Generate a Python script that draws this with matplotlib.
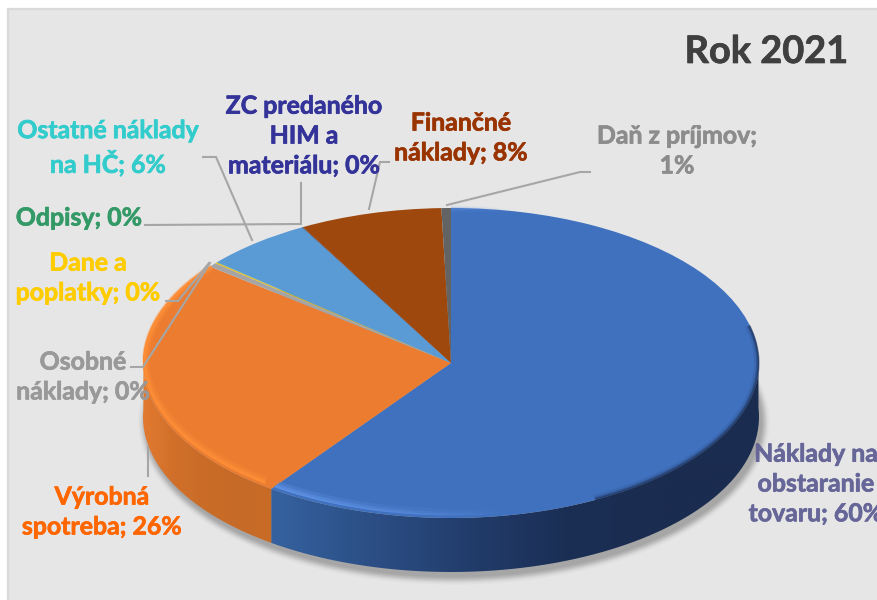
import numpy as np
import matplotlib
matplotlib.use("Agg")
import matplotlib.pyplot as plt
import matplotlib.patheffects as pe
from matplotlib.path import Path
from matplotlib.patches import PathPatch, Ellipse
from matplotlib.collections import LineCollection
from matplotlib.colors import LinearSegmentedColormap, to_rgb

plt.rcParams['font.family'] = ['Lato', 'DejaVu Sans']

# Data
categories = ["Náklady na obstaranie tovaru", "Výrobná spotreba", "Osobné náklady",
              "Dane a poplatky", "Odpisy", "Ostatné náklady na HČ",
              "ZC predaného HIM a materiálu", "Finančné náklady", "Daň z príjmov"]
values = [60.0, 25.8, 0.45, 0.08, 0.05, 5.7, 0.05, 7.5, 0.5]
colors = ["#4071bf", "#ec7c30", "#a5a5a5", "#ffc000", "#70ad47", "#5b9bd5", "#264478", "#9e480e", "#636363"]
labels = ["Náklady na\nobstaranie\ntovaru; 60%", "Výrobná\nspotreba; 26%", "Osobné\nnáklady; 0%",
          "Dane a\npoplatky; 0%", "Odpisy; 0%", "Ostatné náklady\nna HČ; 6%",
          "ZC predaného\nHIM a\nmateriálu; 0%", "Finančné\nnáklady; 8%", "Daň z príjmov;\n1%"]
label_colors = ["#666699", "#ff6600", "#999999", "#ffcc00", "#339966", "#33cccc", "#333399", "#993300", "#8c8c8c"]
label_pos = [(816, 483), (102, 511), (83, 376), (88, 277), (79, 217), (108, 147), (304, 135), (461, 137), (677, 150)]
leaders = [None, [(148, 447), (148, 476)], [(131, 367), (143, 367), (210, 263)],
           [(166, 301), (178, 301), (209, 263)], [(145, 225), (301, 224), (301, 183)],
           [(203, 157), (216, 157), (252, 240)], None, [(389, 162), (380, 162), (369, 209)],
           [(590, 172), (580, 172), (447, 205)]]
title = "Rok 2021"

W, H = 878, 600
CX, CY, A, B, DEPTH = 451, 363, 308, 155, 54

fig = plt.figure(figsize=(W / 100, H / 100), dpi=100, facecolor="white")

# background panel in pixel coordinates
bg = fig.add_axes([0, 0, 1, 1])
bg.set_xlim(0, W); bg.set_ylim(H, 0); bg.axis("off")
bg.add_patch(plt.Rectangle((8, 9), W, H, fc="#e6e6e6", ec="#d9d9d9", lw=1.6))

# soft shadow
for k, a in zip(np.linspace(16, 0, 12), [0.012] * 4 + [0.03] * 8):
    bg.add_patch(Ellipse((CX + 3, CY + DEPTH + 5), 2 * A + k, 2 * B + k, fc="black", ec="none", alpha=a))

# pie axes: unit circle stretched to the ellipse
ax = fig.add_axes([0, 0, 1, 1])
ax.patch.set_alpha(0)
sx = (-CX / A, (W - CX) / A)
sy = ((CY - H) / B, CY / B)


def set_limits():
    ax.set_aspect("auto")
    ax.set_xlim(*sx)
    ax.set_ylim(*sy)
    ax.axis("off")


d = DEPTH / B
shares = np.array(values) / sum(values)
starts = 90 - 360 * np.cumsum(np.r_[0, shares[:-1]])
ends = 90 - 360 * np.cumsum(shares)

# side wall gradient per front slice
side_maps = {
    0: ["#35629f", "#2c4f86", "#223d6c", "#1b2f55", "#1a2c4f", "#1a2c4f"],
    1: ["#e27a30", "#d06f2a", "#c96c28", "#c66a27", "#c86c28"],
}
for i, stops in side_maps.items():
    t = np.radians(np.linspace(starts[i], ends[i], 240))
    keep = np.sin(t) <= 0.06
    tt = t[keep]
    x, y = np.cos(tt), np.sin(tt)
    verts = np.r_[np.c_[x, y], np.c_[x, y - d][::-1], [[x[0], y[0]]]]
    patch = PathPatch(Path(verts), fc="none", ec="none")
    ax.add_patch(patch)
    cmap = LinearSegmentedColormap.from_list("s", stops)
    im = ax.imshow(np.linspace(0, 1, 256).reshape(1, -1), cmap=cmap, aspect="auto",
                   extent=(x.min(), x.max(), y.min() - d - 0.05, y.max() + 0.05), zorder=1)
    im.set_clip_path(patch)
set_limits()

# top surface
ax.pie(values, colors=colors, startangle=90, counterclock=False, radius=1, center=(0, 0),
       wedgeprops=dict(linewidth=0, zorder=3))
set_limits()


# bevel highlight along the front/left edge of the top surface, fading to the right
def bevel(i, highlight, lo, hi):
    t = np.radians(np.linspace(starts[i], ends[i], 300))
    for inset, width, strength in [(6, 5, 0.35), (4.5, 3, 0.6), (3.5, 1.5, 0.8)]:
        r = 1 - inset / B * np.clip(-np.sin(t) * 0.8 + 0.25, 0.2, 1)
        x, y = r * np.cos(t), r * np.sin(t)
        pts = np.c_[x, y].reshape(-1, 1, 2)
        segs = np.concatenate([pts[:-1], pts[1:]], axis=1)
        weight = np.clip((hi - x[:-1]) / (hi - lo), 0, 1) * strength
        cols = np.c_[np.tile(to_rgb(highlight), (len(weight), 1)), weight]
        ax.add_collection(LineCollection(segs, colors=cols, linewidths=width, zorder=4, capstyle="butt"))


bevel(0, "#5f92e4", -0.55, 0.2)
bevel(1, "#ff9038", -0.6, -0.6 + 1e-3)

# right rim soft darkening
t = np.radians(np.linspace(-62, 14, 160))
for inset, al, w in [(0.5, 0.5, 1.5), (1.5, 0.3, 2), (3, 0.12, 3)]:
    ax.plot((1 - inset / A) * np.cos(t), (1 - inset / B) * np.sin(t), color="#1a2c4f",
            lw=w, alpha=al, zorder=5, solid_capstyle="butt")

set_limits()

# text and leaders in pixel coordinates
fg = fig.add_axes([0, 0, 1, 1])
fg.patch.set_alpha(0)
fg.set_xlim(0, W); fg.set_ylim(H, 0); fg.axis("off")
for txt, col, (px, py), lead in zip(labels, label_colors, label_pos, leaders):
    if lead is not None:
        lx, ly = zip(*lead)
        fg.plot(lx, ly, color="#a6a6a6", lw=1.5, solid_joinstyle="miter", zorder=2)
    fg.text(px, py + 1, txt, color=col, fontsize=17.9, fontweight="bold", ha="center", va="center",
            linespacing=1.36, zorder=3,
            path_effects=[pe.withStroke(linewidth=0.5, foreground=col)])
fg.text(848, 52, title, color="#3f3f3f", fontsize=27.3, fontweight="bold", ha="right", va="center",
        path_effects=[pe.withStroke(linewidth=0.5, foreground="#3f3f3f")])

fig.savefig("out.png", dpi=100, facecolor="white")
